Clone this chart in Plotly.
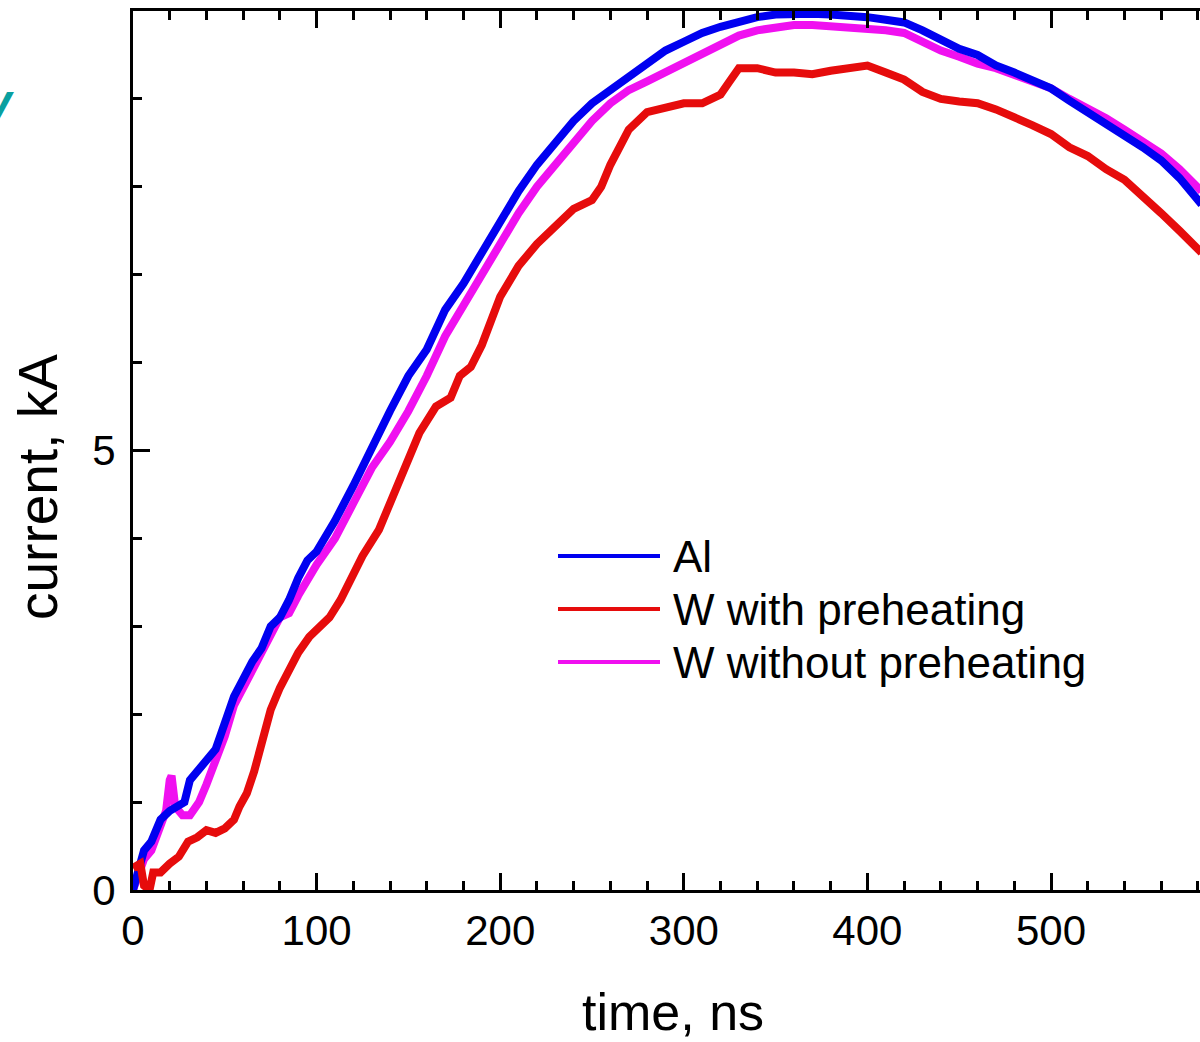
import plotly.graph_objects as go

# ---- data ----
t_al = [0, 3, 6, 10, 15, 20, 25, 28, 31, 35, 40, 45, 50, 55, 60, 65, 70, 75, 80, 85, 90, 95, 100,
        110, 120, 130, 140, 150, 160, 170, 180, 190, 200, 210, 220, 230, 240, 250, 260, 270, 280,
        290, 300, 310, 320, 330, 340, 350, 360, 370, 380, 390, 400, 410, 420, 430, 440, 450, 460,
        470, 480, 490, 500, 510, 520, 530, 540, 550, 560, 570, 580, 582]
i_al = [0.0, 0.2, 0.45, 0.55, 0.8, 0.9, 0.95, 1.0, 1.25, 1.35, 1.45, 1.6, 1.9, 2.2, 2.4, 2.6, 2.75,
        3.0, 3.1, 3.3, 3.55, 3.75, 3.85, 4.2, 4.6, 5.05, 5.45, 5.85, 6.15, 6.6, 6.9, 7.25, 7.6, 7.95,
        8.25, 8.5, 8.75, 8.95, 9.1, 9.25, 9.4, 9.55, 9.65, 9.75, 9.82, 9.88, 9.93, 9.96, 9.97, 9.97,
        9.96, 9.95, 9.93, 9.9, 9.87, 9.78, 9.68, 9.57, 9.5, 9.38, 9.3, 9.22, 9.12, 8.98, 8.85, 8.72,
        8.58, 8.45, 8.3, 8.1, 7.85, 7.8]

t_w_pre = [0, 4, 6, 9, 11, 15, 20, 25, 30, 35, 40, 45, 50, 55, 58, 62, 66, 70, 75, 80, 85, 90, 96,
           100, 107, 113, 118, 125, 134, 140, 145, 150, 156, 165, 173, 178, 184, 190, 200, 210, 220,
           230, 240, 250, 255, 260, 265, 270, 280, 290, 300, 310, 320, 325, 330, 340, 350, 360, 370,
           380, 390, 400, 410, 420, 430, 440, 450, 460, 470, 480, 490, 500, 510, 520, 530, 540, 550,
           560, 570, 580, 582]
i_w_pre = [0.25, 0.3, 0.05, 0.0, 0.2, 0.2, 0.3, 0.38, 0.55, 0.6, 0.68, 0.65, 0.7, 0.8, 0.95, 1.1,
           1.35, 1.65, 2.05, 2.3, 2.5, 2.7, 2.88, 2.95, 3.1, 3.3, 3.5, 3.8, 4.1, 4.4, 4.67, 4.95, 5.2,
           5.5, 5.6, 5.85, 5.95, 6.2, 6.75, 7.1, 7.35, 7.55, 7.75, 7.85, 8.0, 8.25, 8.45, 8.65, 8.85,
           8.9, 8.95, 8.95, 9.05, 9.2, 9.35, 9.35, 9.3, 9.3, 9.28, 9.32, 9.35, 9.38, 9.3, 9.22, 9.08,
           9.0, 8.97, 8.95, 8.88, 8.8, 8.7, 8.6, 8.45, 8.35, 8.2, 8.08, 7.9, 7.7, 7.5, 7.3, 7.25]

t_w_nopre = [0, 3, 6, 10, 15, 18, 20, 21, 23, 27, 31, 36, 40, 45, 50, 55, 60, 65, 70, 75, 80, 85,
             90, 100, 110, 120, 130, 140, 150, 160, 170, 180, 190, 200, 210, 220, 230, 240, 250,
             260, 270, 280, 290, 300, 310, 320, 330, 340, 350, 360, 370, 380, 390, 400, 410, 420,
             430, 440, 450, 460, 470, 480, 490, 500, 510, 520, 530, 540, 550, 560, 570, 580, 582]
i_w_nopre = [0.0, 0.15, 0.35, 0.45, 0.7, 0.9, 1.25, 1.3, 0.95, 0.85, 0.85, 1.0, 1.2, 1.45, 1.75,
             2.1, 2.3, 2.5, 2.7, 2.9, 3.1, 3.15, 3.35, 3.7, 4.0, 4.4, 4.8, 5.1, 5.45, 5.85, 6.3,
             6.65, 7.0, 7.35, 7.7, 8.0, 8.25, 8.5, 8.75, 8.95, 9.1, 9.2, 9.3, 9.42, 9.5, 9.6, 9.72,
             9.78, 9.82, 9.84, 9.84, 9.83, 9.82, 9.8, 9.78, 9.75, 9.65, 9.55, 9.48, 9.4, 9.35, 9.28,
             9.2, 9.12, 9.0, 8.9, 8.78, 8.65, 8.52, 8.38, 8.2, 8.0, 7.95]

series_names = ["Al", "W with preheating", "W without preheating"]
series_colors = ["#0000F0", "#E60C0C", "#F010F0"]

x_ticks = [0, 100, 200, 300, 400, 500]
y_ticks = [0, 5, 10]

# ---- figure ----
W, H = 1200, 1042
L, R, T, B = 133, 0, 11, 152
pw, ph = W - L - R, H - T - B


def px_x(px):
    return (px - L) / pw


def px_y(py):
    return (H - B - py) / ph


fig = go.Figure()
data = {
    "Al": (t_al, i_al),
    "W with preheating": (t_w_pre, i_w_pre),
    "W without preheating": (t_w_nopre, i_w_nopre),
}
color_of = dict(zip(series_names, series_colors))
for name in ["W without preheating", "Al", "W with preheating"]:
    tx, iy = data[name]
    fig.add_trace(go.Scatter(x=tx, y=iy, mode="lines", name=name,
                             line=dict(color=color_of[name], width=8),
                             showlegend=False))

font_family = "Liberation Sans, Arial, sans-serif"

# manual legend (long sample lines like the reference)
leg_rows = [556, 609, 662]
for name, row in zip(series_names, leg_rows):
    fig.add_shape(type="line", xref="paper", yref="paper",
                  x0=px_x(558), x1=px_x(660), y0=px_y(row), y1=px_y(row),
                  line=dict(color=color_of[name], width=4))
    fig.add_annotation(text=name, xref="paper", yref="paper",
                       x=px_x(671), y=px_y(row), xanchor="left", yanchor="middle",
                       showarrow=False, font=dict(size=44, color="black", family=font_family))

# axis titles
fig.add_annotation(text="time, ns", xref="paper", yref="paper",
                   x=px_x(673), y=px_y(1012), xanchor="center", yanchor="middle",
                   showarrow=False, font=dict(size=52, color="black", family=font_family))
fig.add_annotation(text="current, kA", xref="paper", yref="paper", textangle=-90,
                   x=px_x(38), y=px_y(487), xanchor="center", yanchor="middle",
                   showarrow=False, font=dict(size=55, color="black", family=font_family))

# partially visible cyan letter at the left edge (cut off in the reference too)
fig.add_annotation(text="<i><b>V</b></i>", xref="paper", yref="paper",
                   x=px_x(16), y=px_y(108), xanchor="right", yanchor="middle",
                   showarrow=False, font=dict(size=46, color="#0AA0A0", family=font_family))

axis_common = dict(
    showgrid=False, zeroline=False, showline=True, linecolor="black", linewidth=3,
    ticks="inside", tickcolor="black", tickwidth=3, ticklen=17,
    tickfont=dict(size=42, color="black", family=font_family),
)

fig.update_xaxes(range=[0, pw / 1.836], tickvals=x_ticks, mirror="ticks",
                 minor=dict(dtick=20, ticks="inside", ticklen=9, tickwidth=3, tickcolor="black"),
                 ticklabelstandoff=2, **axis_common)
fig.update_yaxes(range=[0, 10], tickvals=y_ticks,
                 minor=dict(dtick=1, ticks="inside", ticklen=9, tickwidth=3, tickcolor="black"),
                 ticklabelstandoff=6, **axis_common)

fig.update_layout(width=W, height=H, margin=dict(l=L, r=R, t=T, b=B, pad=0),
                  plot_bgcolor="white", paper_bgcolor="white", showlegend=False)

fig.write_html("out.html")
